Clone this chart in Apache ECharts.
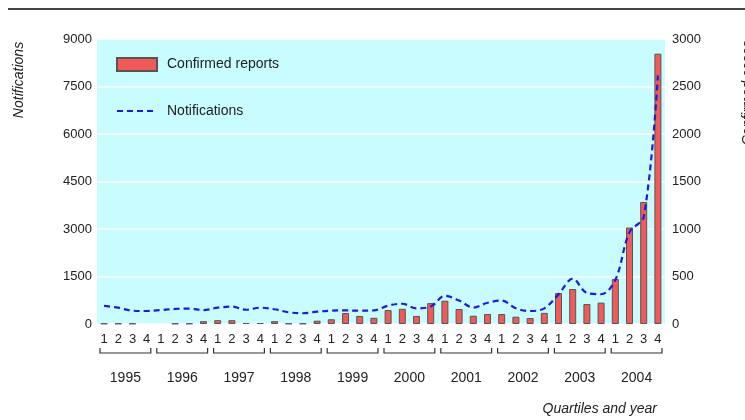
<!DOCTYPE html>
<html>
<head>
<meta charset="utf-8">
<script src="https://cdn.jsdelivr.net/npm/echarts@6/dist/echarts.min.js"></script>
<style>
html,body{margin:0;padding:0;background:#fff;}
#chart{width:745px;height:420px;}
</style>
</head>
<body>
<div id="chart"></div>
<script>
const years = ['1995','1996','1997','1998','1999','2000','2001','2002','2003','2004'];
const quarters = ['1','2','3','4'];
const notifications = [
  570, 515, 420, 410,
  440, 475, 485, 440,
  515, 550, 450, 515,
  465, 370, 340, 390,
  420, 430, 420, 430,
  580, 640, 495, 550,
  890, 740, 520, 670,
  740, 495, 410, 495,
  935, 1430, 980, 940,
  1390, 2900, 3380, 7850
];
const confirmed = [
  5, 5, 5, null,
  null, 5, 5, 30,
  40, 40, 10, 10,
  30, 5, 5, 35,
  50, 115, 85, 65,
  147, 160, 85, 220,
  245, 158, 87, 105,
  105, 77, 63, 117,
  326, 368, 210, 225,
  473, 1015, 1285, 2845
];
const leftAxis = { min: 0, max: 9000, interval: 1500 };
const rightAxis = { min: 0, max: 3000, interval: 500 };

const categories = [];
years.forEach(y => quarters.forEach(q => categories.push(y + '-' + q)));
const yearSpans = years.map((y, i) => [i * quarters.length, i * quarters.length + quarters.length - 1]);

const FONT = 'Liberation Sans, Arial, sans-serif';
const chart = echarts.init(document.getElementById('chart'), null, {renderer: 'canvas'});
chart.setOption({
  animation: false,
  backgroundColor: '#ffffff',
  textStyle: { fontFamily: FONT },
  grid: {
    left: 97, right: 80, top: 39, bottom: 96,
    show: true, backgroundColor: '#c8fcfe', borderWidth: 0
  },
  legend: {
    orient: 'vertical', left: 116, top: 57, itemGap: 32, padding: 0,
    itemWidth: 40, itemHeight: 13,
    data: [
      {name: 'Confirmed reports', icon: 'rect'},
      {name: 'Notifications', itemStyle: { opacity: 0 }}
    ],
    textStyle: { fontSize: 14, color: '#222', fontFamily: FONT, padding: [0,0,0,5] }
  },
  xAxis: [
    {
      type: 'category', data: categories, gridIndex: 0,
      axisLine: { show: false }, axisTick: { show: false },
      axisLabel: { interval: 0, margin: 9, fontSize: 13, color: '#222', fontFamily: FONT,
        formatter: v => v.split('-')[1] }
    },
    {
      type: 'category', data: years, gridIndex: 0, position: 'bottom', offset: 39,
      axisLine: { show: false }, axisTick: { show: false },
      axisLabel: { interval: 0, margin: 8, fontSize: 14, color: '#222', fontFamily: FONT }
    }
  ],
  yAxis: [
    {
      type: 'value', min: leftAxis.min, max: leftAxis.max, interval: leftAxis.interval,
      axisLine: { show: false }, axisTick: { show: false },
      axisLabel: { margin: 5, fontSize: 13, color: '#222', fontFamily: FONT, formatter: v => String(v) },
      splitLine: { show: true, lineStyle: { color: '#ffffff', width: 1.5 } }
    },
    {
      type: 'value', min: rightAxis.min, max: rightAxis.max, interval: rightAxis.interval,
      position: 'right',
      axisLine: { show: false }, axisTick: { show: false },
      axisLabel: { margin: 7, fontSize: 13, color: '#222', fontFamily: FONT, formatter: v => String(v) },
      splitLine: { show: false }
    }
  ],
  series: [
    {
      name: 'Confirmed reports', type: 'bar', xAxisIndex: 0, yAxisIndex: 1,
      data: confirmed, barWidth: 7,
      itemStyle: { color: '#f25a5a', borderColor: '#555555', borderWidth: 1 }
    },
    {
      name: 'Notifications', type: 'line', xAxisIndex: 0, yAxisIndex: 0,
      data: notifications, smooth: 0.35, symbol: 'none',
      lineStyle: { color: '#1c1ce0', width: 2.2, type: [6, 4] },
      itemStyle: { color: '#1c1ce0' },
      z: 5
    },
    {
      name: 'brackets', type: 'custom', xAxisIndex: 0, yAxisIndex: 0,
      data: yearSpans, clip: false, silent: true,
      renderItem: function (params, api) {
        const p1 = api.coord([api.value(0), 0]);
        const p2 = api.coord([api.value(1), 0]);
        const hw = api.size([1, 0])[0] / 2;
        const y0 = p1[1] + 29;
        const x1 = p1[0] - hw + 3, x2 = p2[0] + hw - 3;
        return {
          type: 'polyline',
          shape: { points: [[x1, y0 - 5], [x1, y0], [x2, y0], [x2, y0 - 5]] },
          style: { stroke: '#333', lineWidth: 1.2, fill: null }
        };
      }
    }
  ],
  graphic: [
    { type: 'line', shape: { x1: 8, y1: 9, x2: 745, y2: 9 }, style: { stroke: '#444', lineWidth: 2 } },
    { type: 'text', x: 19, y: 80, rotation: Math.PI / 2,
      style: { text: 'Notifications', font: 'italic 14px ' + FONT, fill: '#222', textAlign: 'center', textVerticalAlign: 'middle' } },
    { type: 'text', x: 748, y: 93, rotation: Math.PI / 2,
      style: { text: 'Confirmed cases', font: 'italic 14px ' + FONT, fill: '#222', textAlign: 'center', textVerticalAlign: 'middle' } },
    { type: 'text', x: 657, y: 409,
      style: { text: 'Quartiles and year', font: 'italic 14px ' + FONT, fill: '#222', textAlign: 'right', textVerticalAlign: 'middle' } }
  ]
});
</script>
</body>
</html>
